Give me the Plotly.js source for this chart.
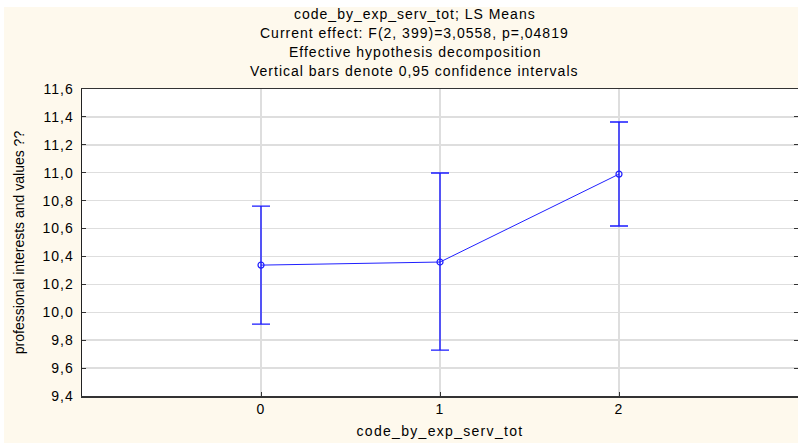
<!DOCTYPE html>
<html>
<head>
<meta charset="utf-8">
<script src="https://cdn.plot.ly/plotly-3.0.1.min.js"></script>
<style>
html,body{margin:0;padding:0;background:#ffffff;}
#chart{position:absolute;left:4px;top:7px;width:794px;height:436px;}
#chart text{letter-spacing:1px;}
#chart text.ytitle{letter-spacing:0px;}
#chart text.xtitle{letter-spacing:1.3px;}
</style>
</head>
<body>
<div id="chart"></div>
<script>
const categories = [0, 1, 2];
const lsMeans = [10.338, 10.36, 10.99];
const ciUpper = [10.761, 10.998, 11.363];
const ciLower = [9.915, 9.729, 10.618];
const yTicks = [9.4, 9.6, 9.8, 10.0, 10.2, 10.4, 10.6, 10.8, 11.0, 11.2, 11.4, 11.6];
const titleLines = [
  "code_by_exp_serv_tot; LS Means",
  "Current effect: F(2, 399)=3,0558, p=,04819",
  "Effective hypothesis decomposition",
  "Vertical bars denote 0,95 confidence intervals"
];

const errPlus = lsMeans.map((m, i) => ciUpper[i] - m);
const errMinus = lsMeans.map((m, i) => m - ciLower[i]);

const trace = {
  x: categories,
  y: lsMeans,
  type: 'scatter',
  mode: 'lines+markers',
  line: {color: '#2020ff', width: 1},
  marker: {symbol: 'circle-open', size: 6, color: '#2020ff', line: {width: 1.2, color: '#2020ff'}},
  error_y: {type: 'data', symmetric: false, array: errPlus, arrayminus: errMinus,
            color: '#1a1aff', thickness: 1.4, width: 9},
  showlegend: false,
  hoverinfo: 'none'
};

const shifts = [75, 56, 37, 18];
const annotations = titleLines.map((t, i) => ({
  text: t, xref: 'paper', yref: 'paper', x: 0.465, y: 1, yshift: shifts[i],
  xanchor: 'center', yanchor: 'middle', showarrow: false,
  font: {family: 'Arial, Liberation Sans, sans-serif', size: 14, color: '#000'}
}));

const layout = {
  width: 794, height: 436,
  margin: {l: 78, r: 0, t: 82, b: 47},
  paper_bgcolor: '#fef9ed',
  plot_bgcolor: '#ffffff',
  separators: ', ',
  annotations: annotations,
  xaxis: {
    range: [-1, 3],
    tickvals: categories,
    ticktext: categories.map(String),
    ticks: 'inside', ticklen: 4, tickcolor: '#333',
    showgrid: true, gridcolor: '#dedede', gridwidth: 1.5,
    showline: true, linecolor: '#333', linewidth: 1.5, mirror: true,
    zeroline: false,
    tickfont: {family: 'Arial, Liberation Sans, sans-serif', size: 14, color: '#000'},
    title: {text: 'code_by_exp_serv_tot', standoff: 10,
            font: {family: 'Arial, Liberation Sans, sans-serif', size: 14, color: '#000'}}
  },
  yaxis: {
    range: [9.4, 11.6],
    tickvals: yTicks,
    tickformat: '.1f',
    ticks: 'inside', ticklen: 4, tickcolor: '#333',
    ticklabelstandoff: 4,
    showgrid: true, gridcolor: '#dedede', gridwidth: 1.5,
    showline: true, linecolor: '#222', linewidth: 1.5, mirror: 'ticks',
    zeroline: false,
    tickfont: {family: 'Arial, Liberation Sans, sans-serif', size: 14, color: '#000'},
    title: {text: 'professional interests and values ??', standoff: 18,
            font: {family: 'Arial, Liberation Sans, sans-serif', size: 14, color: '#000'}}
  }
};

Plotly.newPlot('chart', [trace], layout, {displayModeBar: false, staticPlot: true});
</script>
</body>
</html>
